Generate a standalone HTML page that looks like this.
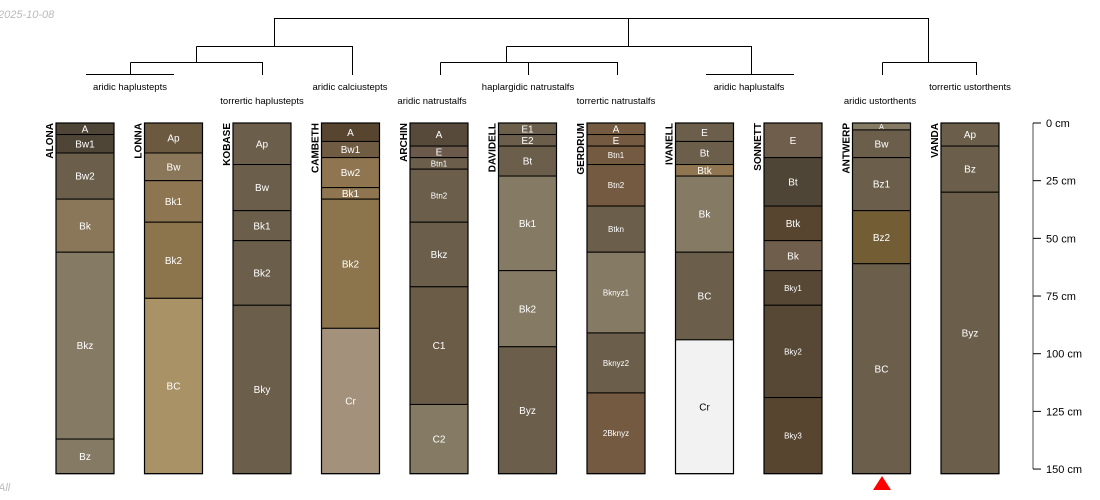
<!DOCTYPE html>
<html><head><meta charset="utf-8"><style>
html,body{margin:0;padding:0;background:#fff;width:1100px;height:500px;overflow:hidden}
svg{display:block;font-family:"Liberation Sans",sans-serif}
</style></head><body>
<svg id="chart" width="1100" height="500">
<text x="-2" y="18" font-size="11" font-style="italic" fill="#bbb">2025-10-08</text>
<text x="-2" y="491" font-size="11" font-style="italic" fill="#bbb">All</text>
<g id="dendro" stroke="#000" stroke-width="1" fill="none">
<path d="M274.5 46 V18.5 H928.5 V62 M628.5 18.5 V46"/>
<path d="M196.5 46.5 H352.5 V75 M274.5 46.5"/>
<path d="M506.5 46.5 H751.5 V74.5"/>
<path d="M196.5 46.5 V62.5 M130.5 62.5 H262.5 V75 M130.5 62.5 V74.5 M86 74.5 H174"/>
<path d="M440.5 62.5 H617.5 V75 M440.5 62.5 V75 M528.5 62.5 V75 M506.5 46.5 V62.5"/>
<path d="M706 74.5 H794"/>
<path d="M882.5 62.5 H976.5 V75 M882.5 62.5 V75"/>
</g>
<g font-size="9.5" fill="#000" text-anchor="middle">
<text x="130" y="90">aridic haplustepts</text>
<text x="262" y="104">torrertic haplustepts</text>
<text x="350" y="90">aridic calciustepts</text>
<text x="432" y="104">aridic natrustalfs</text>
<text x="528" y="90">haplargidic natrustalfs</text>
<text x="616" y="104">torrertic natrustalfs</text>
<text x="749" y="90">aridic haplustalfs</text>
<text x="880" y="104">aridic ustorthents</text>
<text x="970" y="90">torrertic ustorthents</text>
</g>
<g id="profiles"></g>
<g id="axis"></g>
<polygon points="882,476 873,490 891,490" fill="#f00"/>
</svg>
<script>
const profileNames = ["ALONA","LONNA","KOBASE","CAMBETH","ARCHIN","DAVIDELL","GERDRUM","IVANELL","SONNETT","ANTWERP","VANDA"];
const horizonNames = [
 ["A","Bw1","Bw2","Bk","Bkz","Bz"],
 ["Ap","Bw","Bk1","Bk2","BC"],
 ["Ap","Bw","Bk1","Bk2","Bky"],
 ["A","Bw1","Bw2","Bk1","Bk2","Cr"],
 ["A","E","Btn1","Btn2","Bkz","C1","C2"],
 ["E1","E2","Bt","Bk1","Bk2","Byz"],
 ["A","E","Btn1","Btn2","Btkn","Bknyz1","Bknyz2","2Bknyz"],
 ["E","Bt","Btk","Bk","BC","Cr"],
 ["E","Bt","Btk","Bk","Bky1","Bky2","Bky3"],
 ["A","Bw","Bz1","Bz2","BC"],
 ["Ap","Bz","Byz"]
];
const horizonBottoms = [
 [5,13,33,56,137,152],
 [13,25,43,76,152],
 [18,38,51,79,152],
 [8,15,28,33,89,152],
 [10,15,20,43,71,122,152],
 [5,10,23,64,97,152],
 [5,10,18,36,56,91,117,152],
 [8,18,23,56,94,152],
 [15,36,51,64,79,119,152],
 [3,15,38,61,152],
 [10,30,152]
];
const horizonColors = [
 ["#4e4536","#4e4536","#6b5f4c","#8a7658","#857a64","#857a64"],
 ["#6b5a40","#8a7658","#8c7550","#8c754c","#a89266"],
 ["#6b5f4c","#6b5f4c","#6b5f4c","#6b5f4c","#6b5f4c"],
 ["#574530","#6f5c42","#8f7650","#8f7650","#8c754c","#a3917b"],
 ["#574a3b","#6b5a4c","#6b5f4c","#6b5f4c","#6b5f4c","#6b5c48","#857a64"],
 ["#6b5f4c","#6b5f4c","#6b5f4c","#857a64","#857a64","#6b5f4c"],
 ["#735a40","#735a40","#735a40","#735a40","#6b5f4c","#857a64","#6b5f4c","#735a40"],
 ["#6b5f4c","#6b5f4c","#8f7650","#857a64","#6b5f4c","#f2f2f2"],
 ["#6f5e4c","#4e4536","#574530","#6f5e4c","#574836","#574836","#574530"],
 ["#857a64","#6b5f4c","#6b5f4c","#735d35","#6b5f4c"],
 ["#6b5f4c","#6b5f4c","#6b5f4c"]
];
const tickDepths = [0,25,50,75,100,125,150];
const tickLabels = ["0 cm","25 cm","50 cm","75 cm","100 cm","125 cm","150 cm"];

const NS="http://www.w3.org/2000/svg";
const y0=123, pxPerCm=2.307;
function yScale(d){return y0+d*pxPerCm;}
function xScale(i){return 56+i*88.5;}
const colW=58;
function mk(tag,attrs,parent){const e=document.createElementNS(NS,tag);for(const k in attrs)e.setAttribute(k,attrs[k]);parent.appendChild(e);return e;}
function lum(c){const n=parseInt(c.slice(1),16);return 0.299*(n>>16)+0.587*((n>>8)&255)+0.114*(n&255);}
const pg=document.getElementById('profiles');
profileNames.forEach((name,i)=>{
  const g=mk('g',{},pg);
  
  
  const x=xScale(i);
  let top=0;
  horizonBottoms[i].forEach((b,j)=>{
    const r=mk('rect',{x:x,y:yScale(top),width:colW,height:yScale(b)-yScale(top),fill:horizonColors[i][j],stroke:'#000','stroke-width':1},g);
    
    
    const h=yScale(b)-yScale(top);
    const base=horizonNames[i][j].length>=4?8:10;
    const fs=Math.min(base,Math.max(7,h-1));
    const t=mk('text',{x:x+colW/2,y:(yScale(top)+yScale(b))/2+fs*0.36,'text-anchor':'middle','font-size':fs,fill:lum(horizonColors[i][j])>160?'#000':'#fff'},g);
    t.textContent=horizonNames[i][j];
    
    
    top=b;
  });
  mk('rect',{x:x,y:yScale(0),width:colW,height:yScale(top)-yScale(0),fill:'none',stroke:'#000','stroke-width':1.2},g);
  const nt=mk('text',{transform:`translate(${x-3},${y0}) rotate(-90)`,'text-anchor':'end','font-size':10,'font-weight':'bold',fill:'#000'},g);
  nt.textContent=name;
  
  
});
const ag=document.getElementById('axis');


mk('line',{x1:1033,x2:1033,y1:yScale(0),y2:yScale(150),stroke:'#888','stroke-width':1.5},ag);
tickDepths.forEach((d,k)=>{
  const l=mk('line',{x1:1033,x2:1041,y1:yScale(d),y2:yScale(d),stroke:'#000','stroke-width':1},ag);
  
  
  const t=mk('text',{x:1046,y:yScale(d)+4,'font-size':11,fill:'#000'},ag);
  t.textContent=tickLabels[k];
  
  
});
</script>
</body></html>
